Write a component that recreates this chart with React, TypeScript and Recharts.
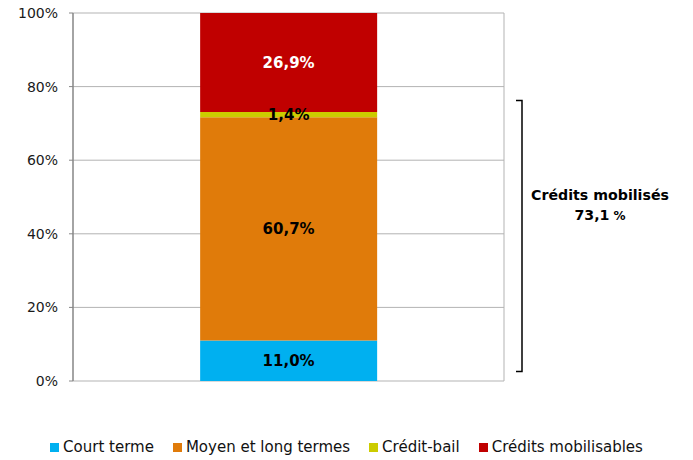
import { BarChart, Bar, XAxis, YAxis, CartesianGrid, LabelList } from 'recharts';

const categories = ['Crédits'];
const seriesNames = ['Court terme', 'Moyen et long termes', 'Crédit-bail', 'Crédits mobilisables'];
const seriesValues = [11.0, 60.7, 1.4, 26.9];
const seriesColors = ['#00B0F0', '#E07B0A', '#CCCC00', '#C00000'];
const labelColors = ['#000', '#000', '#000', '#fff'];
const yTicks = [0, 20, 40, 60, 80, 100];
const bracketTitle = 'Crédits mobilisés';
const bracketValue = '73,1';

const data = categories.map((name) => {
  const row: Record<string, string | number> = { name };
  seriesValues.forEach((v, i) => (row['s' + i] = v));
  return row;
});

const fmt = (v: number) => v.toFixed(1).replace('.', ',') + '%';

export default function App() {
  return (
    <div style={{ position: 'absolute', left: 0, top: 0, width: 693, height: 460, background: '#fff' }}>
      <BarChart
        width={693}
        height={460}
        data={data}
        margin={{ top: 13, right: 189, left: 0, bottom: 79 }}
        barCategoryGap="29.5%"
      >
        <CartesianGrid
          stroke="#b3b3b3"
          verticalCoordinatesGenerator={({ offset }: any) => [offset.left + offset.width]}
        />
        <XAxis dataKey="name" hide />
        <YAxis
          width={73}
          domain={[0, 100]}
          ticks={yTicks}
          tickFormatter={(v) => v + '%'}
          tickSize={4}
          tickMargin={11}
          axisLine={{ stroke: '#868686', strokeWidth: 1.5 }}
          tickLine={{ stroke: '#868686' }}
          tick={{ fontSize: 14, fill: '#1a1a1a', fontFamily: 'DejaVu Sans, Verdana, sans-serif' }}
        />
        {seriesNames.map((n, i) => (
          <Bar key={n} dataKey={'s' + i} name={n} stackId="a" fill={seriesColors[i]} isAnimationActive={false}>
            <LabelList
              dataKey={'s' + i}
              position="center"
              formatter={(v: any) => fmt(Number(v))}
              fill={labelColors[i]}
              style={{ fontSize: 15, fontWeight: 'bold', fontFamily: 'DejaVu Sans, Verdana, sans-serif' }}
            />
          </Bar>
        ))}
      </BarChart>

      <svg width={693} height={460} style={{ position: 'absolute', left: 0, top: 0, pointerEvents: 'none' }}>
        <path d="M516 100.5 H522 V371.5 H516" fill="none" stroke="#000" strokeWidth={1.5} />
        <text
          x={600}
          y={200}
          textAnchor="middle"
          fontFamily="DejaVu Sans, Verdana, sans-serif"
          fontWeight="bold"
          fontSize={14.2}
          fill="#000"
        >
          {bracketTitle}
        </text>
        <text
          x={600}
          y={220}
          textAnchor="middle"
          fontFamily="DejaVu Sans, Verdana, sans-serif"
          fontWeight="bold"
          fontSize={14.2}
          fill="#000"
        >
          {bracketValue}
          <tspan fontSize={12}> %</tspan>
        </text>
      </svg>

      <div
        style={{
          position: 'absolute',
          left: 0,
          top: 438,
          width: 693,
          display: 'flex',
          justifyContent: 'center',
          fontFamily: 'DejaVu Sans, Verdana, sans-serif',
          fontSize: 15,
          color: '#111',
          lineHeight: '18px',
        }}
      >
        {seriesNames.map((n, i) => (
          <div key={n} style={{ display: 'flex', alignItems: 'center', marginRight: i < seriesNames.length - 1 ? 19 : 0 }}>
            <span style={{ width: 9, height: 9, background: seriesColors[i], marginRight: 4, display: 'inline-block' }} />
            <span>{n}</span>
          </div>
        ))}
      </div>
    </div>
  );
}
